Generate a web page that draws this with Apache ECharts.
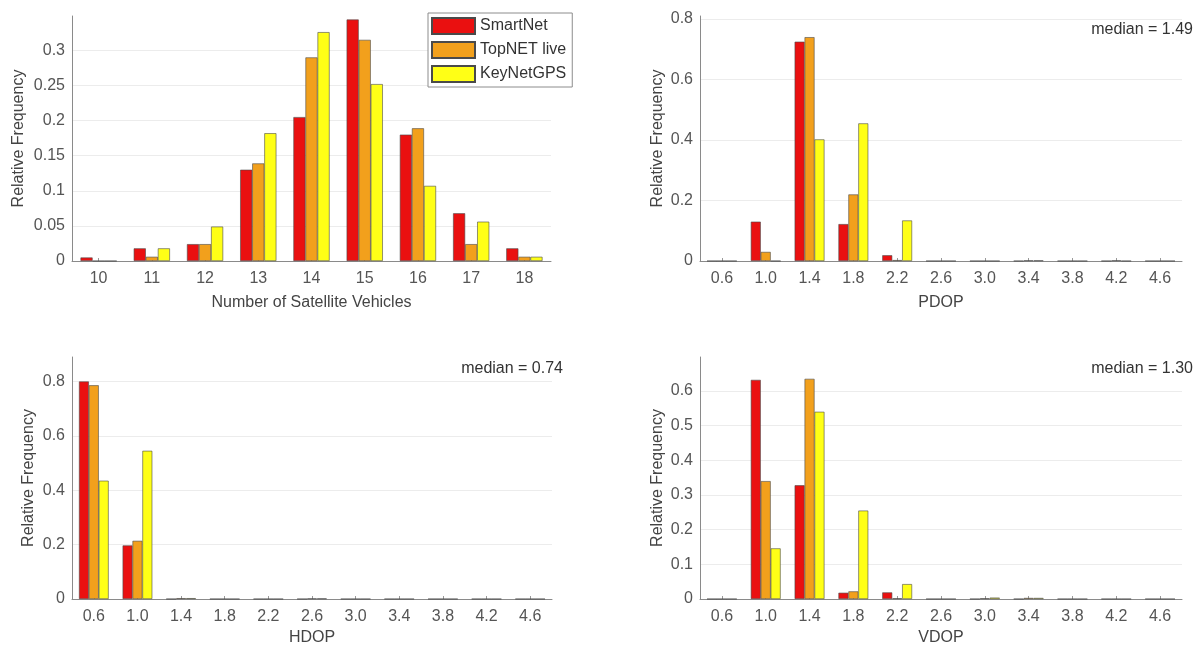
<!DOCTYPE html>
<html>
<head>
<meta charset="utf-8">
<script src="https://cdn.jsdelivr.net/npm/echarts@6/dist/echarts.min.js"></script>
<style>
html,body{margin:0;padding:0;background:#fff;}
#c{width:1200px;height:649px;}
</style>
</head>
<body>
<div id="c"></div>
<script>
// ---- data ----
const seriesNames = ['SmartNet', 'TopNET live', 'KeyNetGPS'];
const svCategories = ['10', '11', '12', '13', '14', '15', '16', '17', '18'];
const svSmartNet = [0.005, 0.018, 0.024, 0.130, 0.205, 0.344, 0.180, 0.068, 0.018];
const svTopNET   = [0.000, 0.006, 0.024, 0.139, 0.290, 0.315, 0.189, 0.024, 0.006];
const svKeyNet   = [0.000, 0.018, 0.049, 0.182, 0.326, 0.252, 0.107, 0.056, 0.006];

const dopCategories = ['0.6', '1.0', '1.4', '1.8', '2.2', '2.6', '3.0', '3.4', '3.8', '4.2', '4.6'];
const pdopSmartNet = [0, 0.130, 0.725, 0.122, 0.019, 0, 0, 0, 0, 0, 0];
const pdopTopNET   = [0, 0.030, 0.740, 0.220, 0.003, 0, 0, 0.002, 0, 0.002, 0];
const pdopKeyNet   = [0, 0.000, 0.402, 0.455, 0.134, 0, 0, 0.002, 0, 0, 0];

const hdopSmartNet = [0.800, 0.197, 0, 0, 0, 0, 0, 0, 0, 0, 0];
const hdopTopNET   = [0.786, 0.214, 0.003, 0, 0, 0.002, 0, 0, 0, 0, 0];
const hdopKeyNet   = [0.435, 0.545, 0.003, 0, 0, 0.002, 0, 0, 0, 0, 0];

const vdopSmartNet = [0, 0.632, 0.328, 0.018, 0.019, 0, 0, 0, 0, 0, 0];
const vdopTopNET   = [0, 0.340, 0.635, 0.022, 0.002, 0, 0.002, 0.003, 0, 0, 0];
const vdopKeyNet   = [0, 0.146, 0.540, 0.255, 0.043, 0, 0.004, 0.003, 0, 0, 0];

const medianTexts = ['median = 1.49', 'median = 0.74', 'median = 1.30'];
const xNames = ['Number of Satellite Vehicles', 'PDOP', 'HDOP', 'VDOP'];
const yName = 'Relative Frequency';

// ---- styles ----
const colors = ['#ea1010', '#f2a01c', '#ffff16'];
const FONT = 'Liberation Sans, Arial, sans-serif';
const textCol = '#444';

const grids = [
  {left: 72, top: 16, width: 479, height: 245},
  {left: 700, top: 16, width: 482, height: 245},
  {left: 72, top: 357, width: 480, height: 242},
  {left: 700, top: 357, width: 482, height: 242}
];
const yMax = [0.349, 0.81, 0.89, 0.698];
const yInt = [0.05, 0.2, 0.2, 0.1];
const yGap = [45, 34, 35, 34];
const xGap = [34, 34, 31, 31];

const panelData = [
  [svSmartNet, svTopNET, svKeyNet],
  [pdopSmartNet, pdopTopNET, pdopKeyNet],
  [hdopSmartNet, hdopTopNET, hdopKeyNet],
  [vdopSmartNet, vdopTopNET, vdopKeyNet]
];
const panelCats = [svCategories, dopCategories, dopCategories, dopCategories];

const xAxes = grids.map((g, i) => ({
  type: 'category', gridIndex: i, data: panelCats[i],
  name: xNames[i], nameLocation: 'middle', nameGap: xGap[i],
  nameTextStyle: {fontFamily: FONT, fontSize: 16, color: textCol},
  axisLine: {lineStyle: {color: '#8a8a8a', width: 1}},
  axisTick: {show: true, inside: true, alignWithLabel: true, length: 3, lineStyle: {color: '#999'}},
  axisLabel: {fontFamily: FONT, fontSize: 16, color: '#555', margin: 10, interval: 0},
  splitLine: {show: false}
}));
const yAxes = grids.map((g, i) => ({
  type: 'value', gridIndex: i, min: 0, max: yMax[i], interval: yInt[i],
  name: yName, nameLocation: 'middle', nameGap: yGap[i], nameRotate: 90,
  nameTextStyle: {fontFamily: FONT, fontSize: 16, color: textCol},
  axisLine: {show: true, lineStyle: {color: '#8a8a8a', width: 1}},
  axisTick: {show: false},
  axisLabel: {fontFamily: FONT, fontSize: 16, color: '#555', margin: 7, showMaxLabel: false},
  splitLine: {show: true, showMinLine: false, showMaxLine: false, lineStyle: {color: '#ececec', width: 1}}
}));

const series = [];
panelData.forEach((arrs, i) => {
  arrs.forEach((arr, k) => {
    series.push({
      type: 'bar', name: seriesNames[k], xAxisIndex: i, yAxisIndex: i,
      data: arr, barGap: '0%', barCategoryGap: '32%',
      itemStyle: {color: colors[k], borderColor: '#4a4a4a', borderWidth: 0.6},
      emphasis: {disabled: true}, animation: false
    });
  });
});

const medianPos = [
  {right: 1200 - 1193, top: 22},
  {right: 1200 - 563, top: 361},
  {right: 1200 - 1193, top: 361}
];
const graphics = medianTexts.map((t, j) => ({
  type: 'text', right: medianPos[j].right, top: medianPos[j].top,
  style: {text: t, fontFamily: FONT, fontSize: 16, fill: '#333'}
}));

const chart = echarts.init(document.getElementById('c'), null, {renderer: 'canvas'});
chart.setOption({
  animation: false,
  backgroundColor: '#fff',
  grid: grids,
  xAxis: xAxes,
  yAxis: yAxes,
  legend: {
    data: seriesNames, orient: 'vertical', left: 428, top: 13,
    itemWidth: 43, itemHeight: 16, itemGap: 6,
    padding: [4, 6, 4, 3],
    backgroundColor: '#fff', borderColor: '#8c8c8c', borderWidth: 1, borderRadius: 0,
    textStyle: {fontFamily: FONT, fontSize: 16, color: '#333', padding: [0, 0, 0, 0]},
    icon: 'rect', selectedMode: false
  },
  graphic: graphics,
  series: series
});
</script>
</body>
</html>
